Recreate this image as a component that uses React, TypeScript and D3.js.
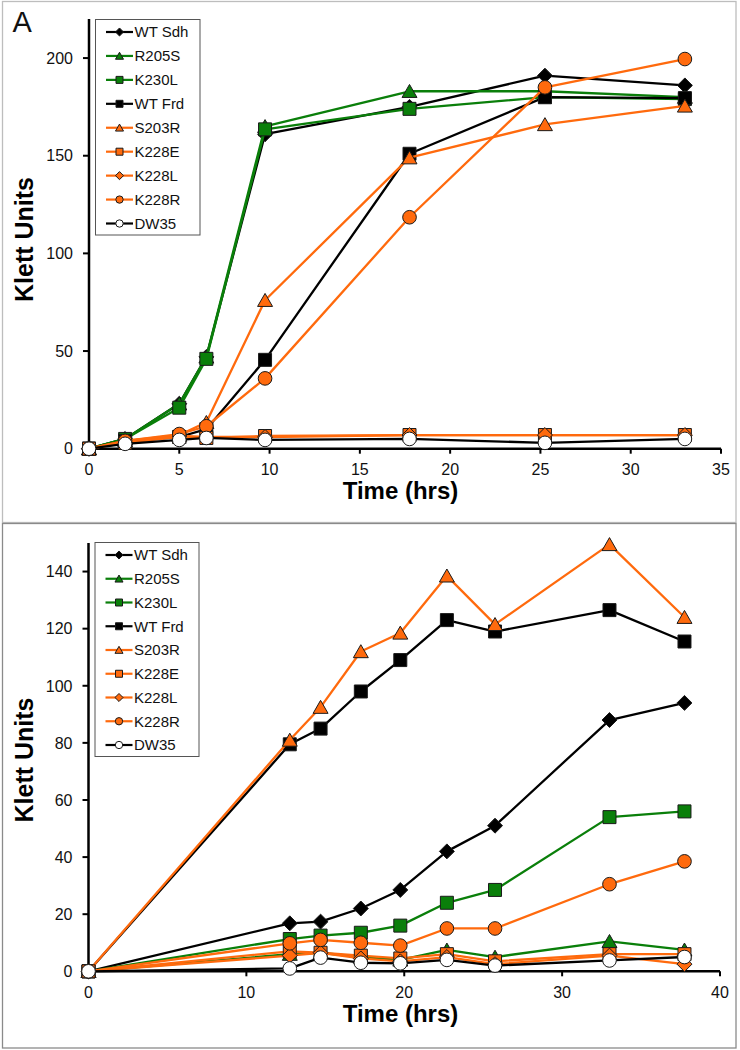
import React from "react";
import * as d3 from "d3";

// ---------- DATA ----------
const seriesNames = ["WT Sdh", "R205S", "K230L", "WT Frd", "S203R", "K228E", "K228L", "K228R", "DW35"];

// Panel A
const timesA = [0, 2, 5, 6.5, 9.75, 17.75, 25.25, 33];
const wtSdhA = [0, 5, 23, 47, 161, 175, 191, 186];
const r205sA = [0, 5, 23, 47, 165, 183, 183, 180];
const k230lA = [0, 5, 21, 46, 163.5, 174, 180, 179];
const wtFrdA = [0, 4, 6, 10, 45.5, 151, 180, 179.5];
const s203rA = [0, 4, 7, 13.5, 76, 149, 166, 175.5];
const k228eA = [0, 3, 6, 5.5, 6.5, 7, 7, 7];
const k228lA = [0, 3, 6.5, 6, 6, 7, 7, 7];
const k228rA = [0, 4, 7.5, 11.5, 36, 118.5, 185, 199.5];
const dw35A = [0, 2.5, 4.5, 5.5, 4.5, 5, 3, 5];
const xTicksA = [0, 5, 10, 15, 20, 25, 30, 35];
const yTicksA = [0, 50, 100, 150, 200];

// Panel B
const timesB = [0, 12.75, 14.7, 17.25, 19.75, 22.7, 25.75, 33, 37.75];
const wtSdhB = [0, 16.8, 17.4, 22, 28.5, 42, 51, 88, 94];
const r205sB = [0, 6, 6.5, 5, 4, 7.5, 5, 10.5, 7.5];
const k230lB = [0, 11.3, 12.5, 13.5, 16, 24, 28.5, 54, 56];
const wtFrdB = [0, 79.5, 85, 98, 109, 123, 119, 126.5, 115.5];
const s203rB = [0, 81, 92.5, 112, 118.5, 138.5, 121.5, 149.5, 124];
const k228eB = [0, 7, 6.5, 5.5, 4.5, 6, 3.5, 6, 6];
const k228lB = [0, 5.5, 6.5, 4.5, 3.5, 5, 2.5, 5.5, 2.5];
const k228rB = [0, 9.8, 11, 10, 9, 15, 15, 30.5, 38.5];
const dw35B = [0, 1, 4.8, 3, 2.8, 4, 2, 3.8, 5];
const xTicksB = [0, 10, 20, 30, 40];
const yTicksB = [0, 20, 40, 60, 80, 100, 120, 140];

// ---------- STYLE ----------
const GREEN = "#0a7f0a";
const ORANGE = "#ff6a0d";
const BLACK = "#000";

type Marker = "diamond" | "triangle" | "square" | "circle";
const styles: { color: string; marker: Marker; fill: string }[] = [
  { color: BLACK, marker: "diamond", fill: BLACK },
  { color: GREEN, marker: "triangle", fill: GREEN },
  { color: GREEN, marker: "square", fill: GREEN },
  { color: BLACK, marker: "square", fill: BLACK },
  { color: ORANGE, marker: "triangle", fill: ORANGE },
  { color: ORANGE, marker: "square", fill: ORANGE },
  { color: ORANGE, marker: "diamond", fill: ORANGE },
  { color: ORANGE, marker: "circle", fill: ORANGE },
  { color: BLACK, marker: "circle", fill: "#fff" },
];

const FONT = "'Liberation Sans', Arial, sans-serif";

function markerPath(m: Marker, s: number): string {
  const h = s / 2;
  if (m === "square") return `M${-h},${-h}H${h}V${h}H${-h}Z`;
  if (m === "diamond") {
    const d = h * 1.15;
    return `M0,${-d}L${d},0L0,${d}L${-d},0Z`;
  }
  if (m === "triangle") {
    const w = h * 1.15;
    return `M0,${-h * 1.05}L${w},${h * 0.95}L${-w},${h * 0.95}Z`;
  }
  const r = h * 1.05;
  return `M${r},0A${r},${r} 0 1,1 ${-r},0A${r},${r} 0 1,1 ${r},0Z`;
}

function MarkerShape({ m, x, y, s, fill }: { m: Marker; x: number; y: number; s: number; fill: string }) {
  return (
    <path
      d={markerPath(m, s)}
      transform={`translate(${x},${y})`}
      fill={fill}
      stroke="#1a1a1a"
      strokeWidth={1}
    />
  );
}

type PanelProps = {
  times: number[];
  values: number[][];
  xDomain: [number, number];
  yDomain: [number, number];
  xRange: [number, number];
  yRange: [number, number];
  xTicks: number[];
  yTicks: number[];
  legendX: number;
  legendY: number;
  legendW: number;
  legendH: number;
  yTitleCenter: number;
  xTitleBaseline: number;
};

function Panel(p: PanelProps) {
  const x = d3.scaleLinear().domain(p.xDomain).range(p.xRange);
  const y = d3.scaleLinear().domain(p.yDomain).range(p.yRange);
  const line = d3
    .line<[number, number]>()
    .x((d) => x(d[0]))
    .y((d) => y(d[1]));
  const x0 = p.xRange[0];
  const y0 = p.yRange[0];
  const step = (p.legendH - 24) / 8;
  return (
    <g>
      {/* axes */}
      <line x1={x0} x2={x0} y1={p.yRange[1]} y2={y0 + 1} stroke="#000" strokeWidth={2.5} />
      <line x1={x0 - 1} x2={p.xRange[1]} y1={y0} y2={y0} stroke="#000" strokeWidth={2.5} />
      {p.yTicks.map((t) => (
        <g key={"y" + t}>
          <line x1={x0 - 6} x2={x0} y1={y(t)} y2={y(t)} stroke="#000" strokeWidth={2} />
          <text
            x={x0 - 16}
            y={y(t)}
            dy="0.36em"
            textAnchor="end"
            fontSize={16}
            fontFamily={FONT}
            fill="#111"
          >
            {t}
          </text>
        </g>
      ))}
      {p.xTicks.map((t) => (
        <g key={"x" + t}>
          <line x1={x(t)} x2={x(t)} y1={y0} y2={y0 + 5} stroke="#000" strokeWidth={2} />
          <text
            x={x(t)}
            y={y0 + 26.5}
            textAnchor="middle"
            fontSize={16}
            fontFamily={FONT}
            fill="#111"
          >
            {t}
          </text>
        </g>
      ))}
      <text
        transform={`translate(${33},${p.yTitleCenter}) rotate(-90)`}
        textAnchor="middle"
        fontSize={25}
        fontWeight="bold"
        fontFamily={FONT}
      >
        Klett Units
      </text>
      <text
        x={400.5}
        y={p.xTitleBaseline}
        textAnchor="middle"
        fontSize={24}
        fontWeight="bold"
        fontFamily={FONT}
      >
        Time (hrs)
      </text>
      {/* series */}
      {p.values.map((vals, i) => {
        const st = styles[i];
        const pts = p.times.map((t, j) => [t, vals[j]] as [number, number]);
        return (
          <g key={seriesNames[i]}>
            <path d={line(pts) || ""} fill="none" stroke={st.color} strokeWidth={2.3} strokeLinejoin="round" />
            {pts.map((d, j) => (
              <MarkerShape key={j} m={st.marker} x={x(d[0])} y={y(d[1])} s={13} fill={st.fill} />
            ))}
          </g>
        );
      })}
      {/* legend */}
      <rect
        x={p.legendX}
        y={p.legendY}
        width={p.legendW}
        height={p.legendH}
        fill="#fff"
        stroke="#555"
        strokeWidth={1}
      />
      {seriesNames.map((n, i) => {
        const st = styles[i];
        const cy = p.legendY + 12.5 + i * step;
        const lx = p.legendX + 10.5;
        return (
          <g key={"lg" + n}>
            <line x1={lx} x2={lx + 27} y1={cy} y2={cy} stroke={st.color} strokeWidth={2.2} />
            <MarkerShape m={st.marker} x={lx + 13.5} y={cy} s={7} fill={st.fill} />
            <text x={lx + 28.5} y={cy} dy="0.36em" fontSize={15} fontFamily={FONT} fill="#111">
              {n}
            </text>
          </g>
        );
      })}
    </g>
  );
}

export default function App() {
  return (
    <svg
      width={740}
      height={1050}
      style={{ position: "absolute", left: 0, top: 0, background: "#fff" }}
    >
      <rect x={0} y={0} width={740} height={1050} fill="#fff" />
      <rect x={2.5} y={1.5} width={733.5} height={521} fill="#fff" stroke="#bdbdbd" strokeWidth={1.3} />
      <rect x={2.5} y={523.5} width={733.5} height={524.5} fill="#fff" stroke="#8a8a8a" strokeWidth={1.3} />
      <text x={12.5} y={32} fontSize={29} fontFamily={FONT} fill="#111">
        A
      </text>
      <Panel
        times={timesA}
        values={[wtSdhA, r205sA, k230lA, wtFrdA, s203rA, k228eA, k228lA, k228rA, dw35A]}
        xDomain={[0, 35]}
        yDomain={[0, 220]}
        xRange={[89, 721]}
        yRange={[448.7, 19]}
        xTicks={xTicksA}
        yTicks={yTicksA}
        legendX={95.5}
        legendY={19.5}
        legendW={104.5}
        legendH={215.5}
        yTitleCenter={239.5}
        xTitleBaseline={499}
      />
      <Panel
        times={timesB}
        values={[wtSdhB, r205sB, k230lB, wtFrdB, s203rB, k228eB, k228lB, k228rB, dw35B]}
        xDomain={[0, 40]}
        yDomain={[0, 150]}
        xRange={[88.5, 720]}
        yRange={[971.3, 543]}
        xTicks={xTicksB}
        yTicks={yTicksB}
        legendX={95}
        legendY={542.5}
        legendW={104}
        legendH={214}
        yTitleCenter={760}
        xTitleBaseline={1022}
      />
    </svg>
  );
}
